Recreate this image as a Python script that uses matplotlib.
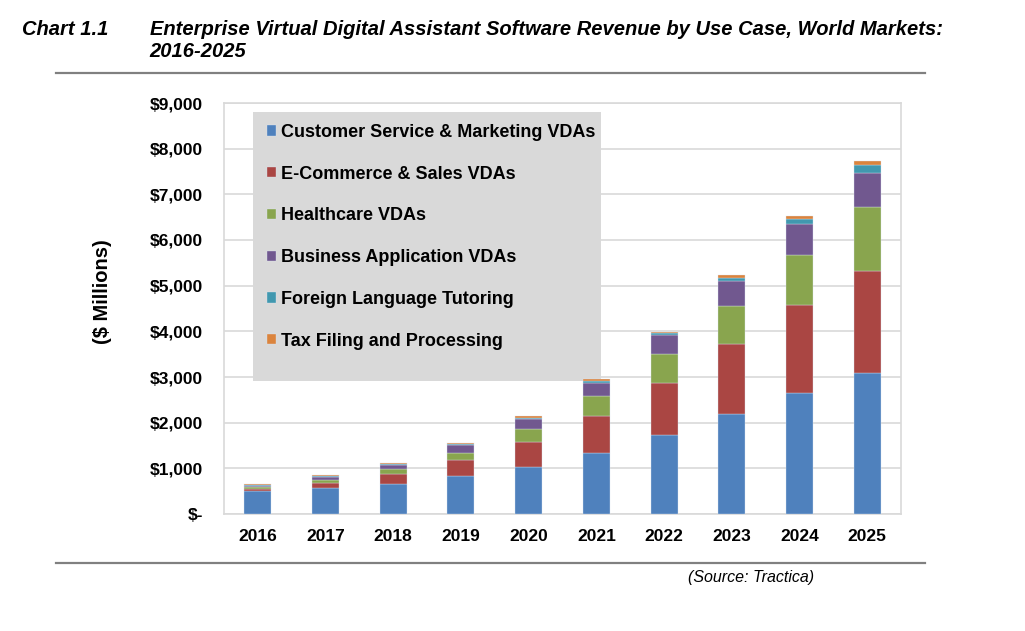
import matplotlib.pyplot as plt
import matplotlib.ticker as mticker
from matplotlib.patches import Rectangle
import numpy as np

# ==========================================
# 1. DATA ($ millions)
# ==========================================
years = ["2016", "2017", "2018", "2019", "2020", "2021", "2022", "2023", "2024", "2025"]

customer_service = [495, 569, 657, 825, 1040, 1342, 1730, 2190, 2642, 3080]
ecommerce_sales = [52, 110, 226, 350, 526, 804, 1146, 1533, 1934, 2248]
healthcare = [37, 73, 103, 168, 296, 438, 628, 832, 1095, 1394]
business_app = [36, 51, 87, 161, 226, 277, 416, 547, 679, 752]
language_tutoring = [15, 22, 29, 22, 22, 44, 43, 58, 103, 161]
tax_filing = [22, 29, 22, 29, 30, 45, 30, 80, 65, 94]

series_names = [
    "Customer Service & Marketing VDAs",
    "E-Commerce & Sales VDAs",
    "Healthcare VDAs",
    "Business Application VDAs",
    "Foreign Language Tutoring",
    "Tax Filing and Processing",
]
series_values = [customer_service, ecommerce_sales, healthcare,
                 business_app, language_tutoring, tax_filing]
colors = ["#4F81BD", "#AA4643", "#89A54E", "#71588F", "#4198AF", "#DB843D"]

# ==========================================
# 2. PLOT
# ==========================================
plt.rcParams["font.family"] = ["Liberation Sans", "DejaVu Sans"]
TITLE_FONT = ["Liberation Sans Narrow", "Liberation Sans", "DejaVu Sans"]

fig = plt.figure(figsize=(10.25, 6.31), dpi=100)
# plot area: x 224..901 px, y 103..514 px
ax = fig.add_axes([224 / 1025, 1 - 514 / 631, 677 / 1025, 411 / 631])

x = np.arange(len(years))
bottom = np.zeros(len(years))
for name, vals, col in zip(series_names, series_values, colors):
    ax.bar(x, vals, width=0.4, bottom=bottom, color=col, label=name,
           edgecolor="#DCE6F2", linewidth=0.25, zorder=3)
    bottom += np.array(vals)

ax.set_ylim(0, 9000)
ax.set_xlim(-0.5, len(years) - 0.5)
ax.set_yticks(np.arange(0, 9001, 1000))
ax.yaxis.set_major_formatter(mticker.FuncFormatter(
    lambda v, p: "$-" if v == 0 else f"${v:,.0f}"))
ax.set_xticks(x)
ax.set_xticklabels(years)
for lab in ax.get_xticklabels() + ax.get_yticklabels():
    lab.set_fontweight("bold")
    lab.set_fontsize(12.5)
ax.tick_params(axis="both", length=0)
ax.tick_params(axis="y", pad=15)
ax.tick_params(axis="x", pad=11)

ax.grid(axis="y", color="#D9D9D9", linewidth=1.2, zorder=0)
for sp in ax.spines.values():
    sp.set_color("#D9D9D9")
    sp.set_linewidth(1.2)

ax.set_ylabel("($ Millions)", fontsize=14.5, fontweight="bold")
ax.yaxis.set_label_coords(-0.165, 0.54)

# gray legend box (Excel style, extra space at the bottom)
ax.add_patch(Rectangle((0.043, 0.3236), 0.514, 0.6544, transform=ax.transAxes,
                       facecolor="#D9D9D9", edgecolor="none", zorder=2))
leg = ax.legend(loc="upper left", bbox_to_anchor=(0.064, 0.949), frameon=False,
                prop={"weight": "bold", "size": 13},
                labelspacing=1.37, handlelength=0.5, handleheight=0.5,
                handletextpad=0.25, borderpad=0, borderaxespad=0)

# title block and rules
fig.text(0.021, 0.953, "Chart 1.1", fontsize=14.5, fontweight="bold",
         style="italic", family=TITLE_FONT, va="center")
fig.text(0.146, 0.953,
         "Enterprise Virtual Digital Assistant Software Revenue by Use Case, World Markets:",
         fontsize=14.5, fontweight="bold", style="italic", family=TITLE_FONT, va="center")
fig.text(0.146, 0.918, "2016-2025", fontsize=14.5, fontweight="bold",
         style="italic", family=TITLE_FONT, va="center")
fig.add_artist(plt.Line2D([0.055, 0.902], [0.884, 0.884], color="#808080",
                          linewidth=1.6, transform=fig.transFigure))
fig.add_artist(plt.Line2D([0.055, 0.902], [0.108, 0.108], color="#808080",
                          linewidth=1.6, transform=fig.transFigure))
fig.text(0.671, 0.084, "(Source: Tractica)", fontsize=11.5, style="italic",
         family=TITLE_FONT, va="center")

fig.savefig("out.png", dpi=100, facecolor="white")
